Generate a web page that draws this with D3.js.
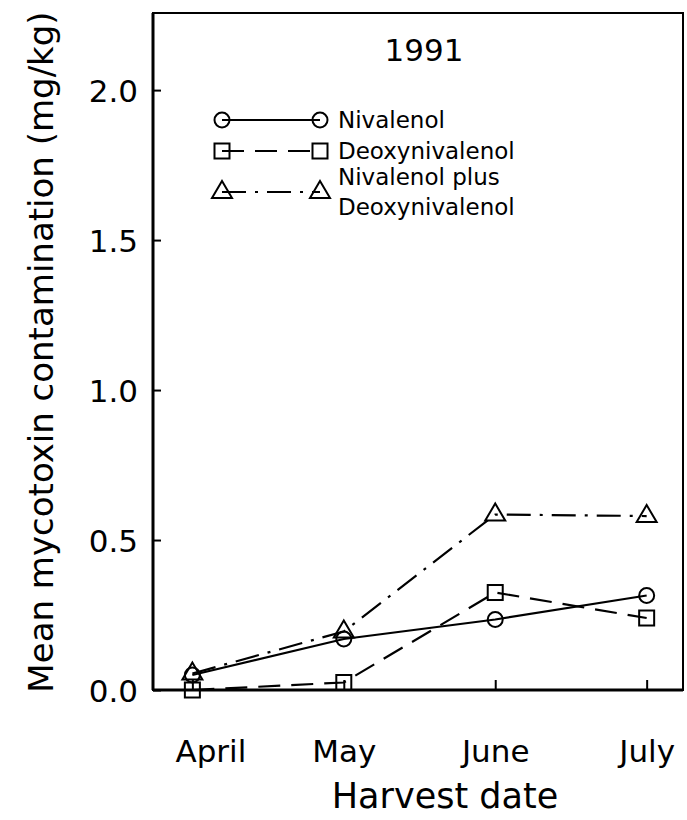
<!DOCTYPE html>
<html>
<head>
<meta charset="utf-8">
<script src="https://cdn.jsdelivr.net/npm/d3@7.9.0/dist/d3.min.js"></script>
<style>
  body { margin: 0; background: #fff; }
  svg text { font-family: "DejaVu Sans", "Liberation Sans", sans-serif; fill: #000; }
</style>
</head>
<body>
<svg width="687" height="820"></svg>
<script>
// data
const months = ['April', 'May', 'June', 'July'];
const nivalenol = [0.05, 0.17, 0.235, 0.315];
const deoxynivalenol = [0.0, 0.025, 0.325, 0.24];
const combined = [0.055, 0.195, 0.585, 0.58];
const yTicks = [0.0, 0.5, 1.0, 1.5, 2.0];

const svg = d3.select('svg');
const plotLeft = 153, plotRight = 683, plotTop = 13, plotBottom = 690;

const x = d3.scaleLinear().domain([-0.26, 3.24]).range([plotLeft, plotRight]);
const y = d3.scaleLinear().domain([0, 2.257]).range([plotBottom, plotTop]);

// frame
svg.append('rect')
  .attr('x', plotLeft).attr('y', plotTop)
  .attr('width', plotRight - plotLeft).attr('height', plotBottom - plotTop)
  .attr('fill', 'none').attr('stroke', '#000').attr('stroke-width', 2);
svg.append('line')
  .attr('x1', plotLeft).attr('x2', plotLeft).attr('y1', plotTop).attr('y2', plotBottom)
  .attr('stroke', '#000').attr('stroke-width', 3);
svg.append('line')
  .attr('x1', plotLeft).attr('x2', plotRight).attr('y1', plotBottom).attr('y2', plotBottom)
  .attr('stroke', '#000').attr('stroke-width', 3);

// y axis: ticks point inward
const yAxis = d3.axisLeft(y).tickValues(yTicks).tickSize(-8).tickPadding(15)
  .tickFormat(d3.format('.1f'));
const gy = svg.append('g').attr('transform', `translate(${plotLeft},0)`).call(yAxis);
gy.select('.domain').remove();
gy.selectAll('.tick line').attr('stroke-width', 2);
gy.selectAll('.tick text').attr('font-size', 31).attr('dy', '0.36em');

// x axis
const xAxis = d3.axisBottom(x).tickValues(d3.range(months.length))
  .tickFormat(i => months[i]).tickSize(-10).tickPadding(50);
const gx = svg.append('g').attr('transform', `translate(0,${plotBottom})`).call(xAxis);
gx.select('.domain').remove();
gx.selectAll('.tick line').attr('stroke-width', 2);
gx.selectAll('.tick text').attr('font-size', 31).attr('dx', (d, i) => i === 0 ? 18 : 0);

// axis titles
svg.append('text')
  .attr('x', 445).attr('y', 808)
  .attr('text-anchor', 'middle').attr('font-size', 35)
  .text('Harvest date');
svg.append('text')
  .attr('transform', 'translate(53,352) rotate(-90)')
  .attr('text-anchor', 'middle').attr('font-size', 34)
  .text('Mean mycotoxin contamination (mg/kg)');

svg.append('text')
  .attr('x', 424).attr('y', 61)
  .attr('text-anchor', 'middle').attr('font-size', 31)
  .text('1991');

const series = [
  { name: 'Nivalenol', values: nivalenol, dash: null, marker: 'circle' },
  { name: 'Deoxynivalenol', values: deoxynivalenol, dash: '22,11', marker: 'square' },
  { name: 'Nivalenol plus Deoxynivalenol', values: combined, dash: '24,9,3,9', marker: 'triangle' }
];

function drawMarker(g, type, cx, cy) {
  if (type === 'circle') {
    g.append('circle').attr('cx', cx).attr('cy', cy).attr('r', 7.5)
      .attr('fill', 'none').attr('stroke', '#000').attr('stroke-width', 2);
  } else if (type === 'square') {
    g.append('rect').attr('x', cx - 7.5).attr('y', cy - 7.5).attr('width', 15).attr('height', 15)
      .attr('fill', 'none').attr('stroke', '#000').attr('stroke-width', 2);
  } else {
    g.append('path')
      .attr('d', `M${cx},${cy - 11}L${cx + 10},${cy + 6}L${cx - 10},${cy + 6}Z`)
      .attr('fill', 'none').attr('stroke', '#000').attr('stroke-width', 2);
  }
}

const line = d3.line().x((d, i) => x(i)).y(d => y(d));

series.forEach(s => {
  svg.append('path')
    .attr('d', line(s.values))
    .attr('fill', 'none').attr('stroke', '#000').attr('stroke-width', 2.2)
    .attr('stroke-dasharray', s.dash);
  const g = svg.append('g');
  s.values.forEach((v, i) => drawMarker(g, s.marker, x(i), y(v)));
});

// legend
const legendRows = [
  { y: 120, lines: ['Nivalenol'] },
  { y: 151, lines: ['Deoxynivalenol'] },
  { y: 192, lines: ['Nivalenol plus', 'Deoxynivalenol'] }
];
series.forEach((s, i) => {
  const ly = legendRows[i].y;
  const g = svg.append('g');
  g.append('line').attr('x1', 222).attr('x2', 320).attr('y1', ly).attr('y2', ly)
    .attr('stroke', '#000').attr('stroke-width', 2.2).attr('stroke-dasharray', s.dash);
  drawMarker(g, s.marker, 222, ly);
  drawMarker(g, s.marker, 320, ly);
  const t = g.append('text').attr('x', 338).attr('y', ly).attr('font-size', 23);
  const ls = legendRows[i].lines;
  ls.forEach((txt, j) => {
    t.append('tspan').attr('x', 338)
      .attr('dy', j === 0 ? (ls.length > 1 ? '-0.3em' : '0.35em') : '1.3em')
      .text(txt);
  });
});
</script>
</body>
</html>
